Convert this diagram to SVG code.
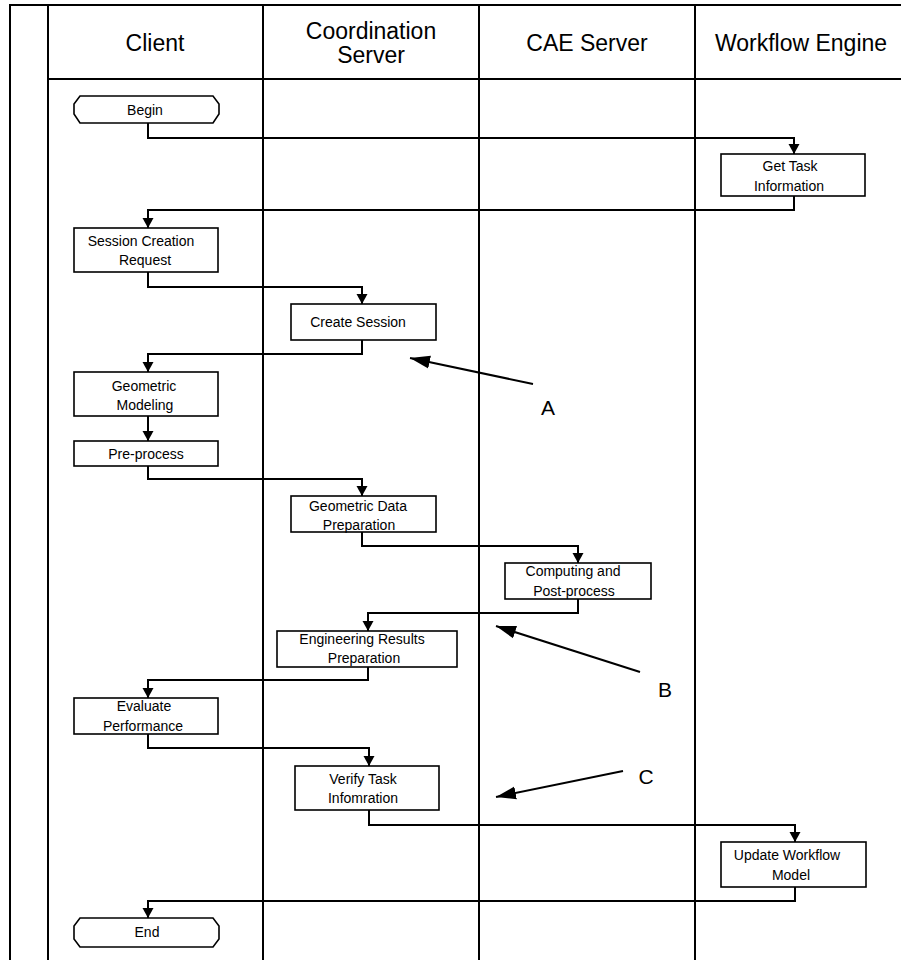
<svg xmlns="http://www.w3.org/2000/svg" width="901" height="960" viewBox="0 0 901 960">
  <style>
    .lane { stroke: #000; stroke-width: 2; fill: none; }
    .box { fill: #fff; stroke: #000; stroke-width: 1.6; }
    .wire { fill: none; stroke: #000; stroke-width: 2; }
    .note { fill: none; stroke: #000; stroke-width: 2; }
    .t { font-family: "Liberation Sans", Arial, sans-serif; font-size: 14px; fill: #000; text-anchor: middle; }
    .h { font-family: "Liberation Sans", Arial, sans-serif; font-size: 23px; fill: #000; text-anchor: middle; }
    .lbl { font-family: "Liberation Sans", Arial, sans-serif; font-size: 21px; fill: #000; text-anchor: middle; }
  </style>
  <defs>
    <marker id="arr" markerUnits="userSpaceOnUse" markerWidth="11" markerHeight="12" refX="10" refY="6" orient="auto">
      <path d="M0,0.5 L10,6 L0,11.5 z" fill="#000"/>
    </marker>
    <marker id="big" markerUnits="userSpaceOnUse" markerWidth="21" markerHeight="14" refX="20" refY="7" orient="auto">
      <path d="M0,0.5 L20,7 L0,13.5 z" fill="#000"/>
    </marker>
  </defs>

  <rect width="901" height="960" fill="#fff"/>

  <!-- swimlane frame -->
  <g id="lanes">
    <line class="lane" x1="10" y1="5" x2="10" y2="960"/>
    <line class="lane" x1="9" y1="5" x2="901" y2="5"/>
    <line class="lane" x1="48" y1="5" x2="48" y2="960"/>
    <line class="lane" x1="48" y1="79" x2="901" y2="79"/>
    <line class="lane" x1="263" y1="5" x2="263" y2="960"/>
    <line class="lane" x1="479" y1="5" x2="479" y2="960"/>
    <line class="lane" x1="695" y1="5" x2="695" y2="960"/>
    <text class="h" x="155" y="51">Client</text>
    <text class="h" x="371" y="39">Coordination</text>
    <text class="h" x="371" y="63">Server</text>
    <text class="h" x="587" y="51">CAE Server</text>
    <text class="h" x="801" y="51">Workflow Engine</text>
  </g>

  <!-- connectors -->
  <g id="connectors">
    <polyline class="wire" points="148,123 148,138 794,138 794,154" marker-end="url(#arr)"/>
    <polyline class="wire" points="794,196 794,210 148,210 148,228" marker-end="url(#arr)"/>
    <polyline class="wire" points="148,272 148,287 362,287 362,304" marker-end="url(#arr)"/>
    <polyline class="wire" points="362,340 362,354 148,354 148,372" marker-end="url(#arr)"/>
    <polyline class="wire" points="148,416 148,441" marker-end="url(#arr)"/>
    <polyline class="wire" points="148,466 148,479 362,479 362,496" marker-end="url(#arr)"/>
    <polyline class="wire" points="362,532 362,546 578,546 578,563" marker-end="url(#arr)"/>
    <polyline class="wire" points="578,599 578,613 368,613 368,631" marker-end="url(#arr)"/>
    <polyline class="wire" points="368,667 368,680 148,680 148,698" marker-end="url(#arr)"/>
    <polyline class="wire" points="148,734 148,748 369,748 369,766" marker-end="url(#arr)"/>
    <polyline class="wire" points="369,810 369,825 795,825 795,842" marker-end="url(#arr)"/>
    <polyline class="wire" points="795,887 795,901 148,901 148,918" marker-end="url(#arr)"/>
  </g>

  <!-- process nodes -->
  <g id="begin">
    <polygon class="box" points="80,96 213,96 219,104 219,114 213,123 80,123 74,114 74,104"/>
    <text class="t" x="145" y="115">Begin</text>
  </g>
  <g id="get-task">
    <rect class="box" x="721" y="154" width="144" height="42"/>
    <text class="t" x="790" y="171">Get Task</text>
    <text class="t" x="789" y="191">Information</text>
  </g>
  <g id="session-request">
    <rect class="box" x="74" y="228" width="144" height="44"/>
    <text class="t" x="141" y="246">Session Creation</text>
    <text class="t" x="145" y="265">Request</text>
  </g>
  <g id="create-session">
    <rect class="box" x="291" y="304" width="145" height="36"/>
    <text class="t" x="358" y="327">Create Session</text>
  </g>
  <g id="geometric-modeling">
    <rect class="box" x="74" y="372" width="144" height="44"/>
    <text class="t" x="144" y="391">Geometric</text>
    <text class="t" x="145" y="410">Modeling</text>
  </g>
  <g id="pre-process">
    <rect class="box" x="74" y="441" width="144" height="25"/>
    <text class="t" x="146" y="459">Pre-process</text>
  </g>
  <g id="geometric-data">
    <rect class="box" x="291" y="496" width="145" height="36"/>
    <text class="t" x="358" y="511">Geometric Data</text>
    <text class="t" x="359" y="530">Preparation</text>
  </g>
  <g id="computing">
    <rect class="box" x="505" y="563" width="146" height="36"/>
    <text class="t" x="573" y="576">Computing and</text>
    <text class="t" x="574" y="596">Post-process</text>
  </g>
  <g id="engineering-results">
    <rect class="box" x="277" y="631" width="180" height="36"/>
    <text class="t" x="362" y="644">Engineering Results</text>
    <text class="t" x="364" y="663">Preparation</text>
  </g>
  <g id="evaluate">
    <rect class="box" x="74" y="698" width="144" height="36"/>
    <text class="t" x="144" y="711">Evaluate</text>
    <text class="t" x="143" y="731">Performance</text>
  </g>
  <g id="verify-task">
    <rect class="box" x="295" y="766" width="144" height="44"/>
    <text class="t" x="363" y="784">Verify Task</text>
    <text class="t" x="363" y="803">Infomration</text>
  </g>
  <g id="update-workflow">
    <rect class="box" x="721" y="842" width="145" height="45"/>
    <text class="t" x="787" y="860">Update Workflow</text>
    <text class="t" x="791" y="880">Model</text>
  </g>
  <g id="end">
    <polygon class="box" points="80,918 213,918 219,926 219,939 213,947 80,947 74,939 74,926"/>
    <text class="t" x="147" y="937">End</text>
  </g>

  <!-- callouts -->
  <g id="callouts">
    <line class="note" x1="533" y1="384" x2="410" y2="358" marker-end="url(#big)"/>
    <text class="lbl" x="548" y="415">A</text>
    <line class="note" x1="640" y1="672" x2="496" y2="626" marker-end="url(#big)"/>
    <text class="lbl" x="665" y="697">B</text>
    <line class="note" x1="623" y1="771" x2="496" y2="797" marker-end="url(#big)"/>
    <text class="lbl" x="646" y="784">C</text>
  </g>
</svg>
